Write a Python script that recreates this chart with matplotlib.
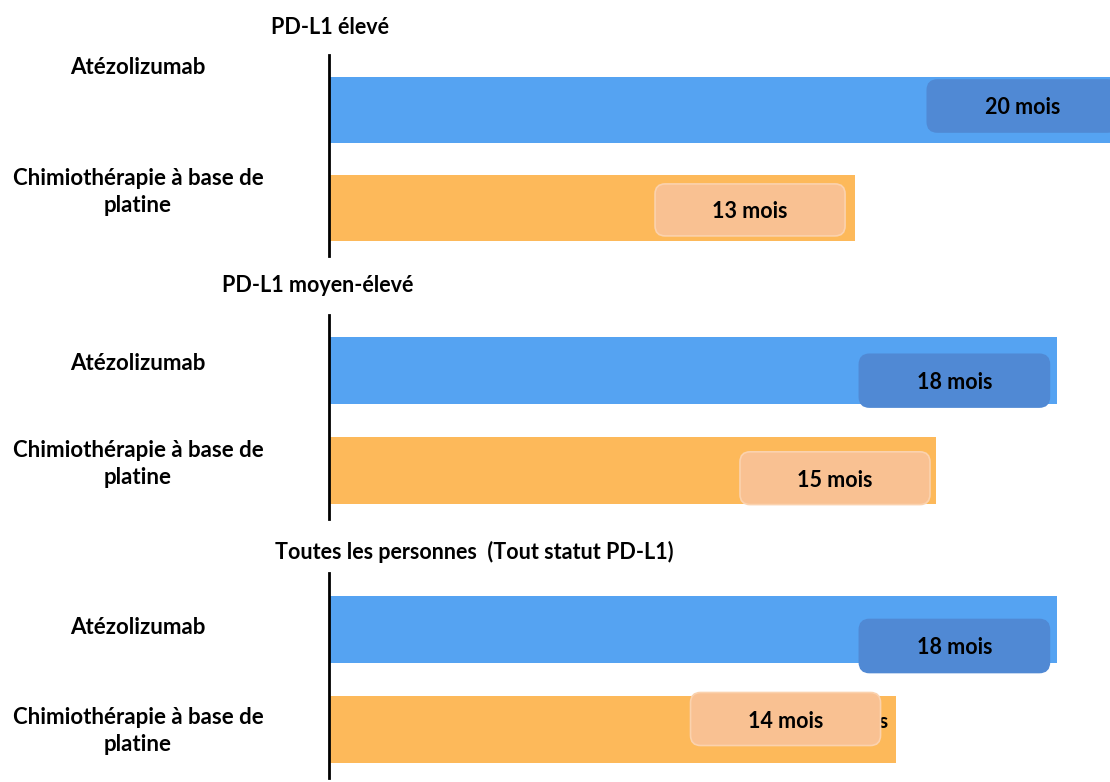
import matplotlib.pyplot as plt
from matplotlib.patches import FancyBboxPatch

plt.rcParams['font.family'] = ['Lato', 'DejaVu Sans']
plt.rcParams['font.weight'] = 'bold'

groups = ['PD-L1 élevé', 'PD-L1 moyen-élevé', 'Toutes les personnes  (Tout statut PD-L1)']
treatments = ['Atézolizumab', 'Chimiothérapie à base de\nplatine']
atezo_months = [20, 18, 18]
chemo_months = [13, 15, 14]

W, H = 1110, 782
fig = plt.figure(figsize=(W / 100, H / 100), dpi=100)

blue = '#55a3f2'
orange = '#fdb95a'
blue_box = '#5089d4'
orange_box = '#f9c192'

# panel layout in pixels: (axis top, axis bottom, title x, title y)
panels = [(55, 256, 330, 27), (315, 519, 318, 285), (573, 778, 474, 552)]
# row label centres in pixels (atezolizumab, chemo)
label_y = [(67, 192), (363, 464), (628, 731)]
# vertical shift of the value boxes in bar units (blue, orange)
box_shift = [(-0.04, 0.02), (0.10, 0.08), (0.17, -0.10)]
# gap in pixels between a box's right edge and the bar end
box_gap = [(21, 10), (8, 6), (8, 15)]

x0, x1 = 329, 1110
xmax = 19.3
px_per_month = (x1 - x0) / xmax
box_w = 190 / px_per_month
box_h = 0.53
aspect = px_per_month / 98.5

for i, (top, bot, tx, ty) in enumerate(panels):
    ax = fig.add_axes([x0 / W, 1 - bot / H, (x1 - x0) / W, (bot - top) / H])
    vals = [atezo_months[i], chemo_months[i]]
    ax.barh([0, 1], vals, height=0.67, color=[blue, orange], zorder=1)
    ax.set_xlim(0, xmax)
    ax.set_ylim(1.49, -0.56)
    for s in ['top', 'right', 'bottom']:
        ax.spines[s].set_visible(False)
    ax.spines['left'].set_linewidth(2)
    ax.spines['left'].set_color('black')
    ax.set_xticks([])
    ax.set_yticks([])
    ax.patch.set_alpha(0)

    for j, v in enumerate(vals):
        yc = j + box_shift[i][j]
        right = v - box_gap[i][j] / px_per_month
        if i == 2 and j == 1:
            # tail of an old label peeking out from under the box
            ax.text(right + 2 / px_per_month, yc + 0.03, 's', ha='center', va='center',
                    fontsize=15, color='black', zorder=1.5)
        fc = blue_box if j == 0 else orange_box
        ec = blue_box if j == 0 else '#fbd2ae'
        box = FancyBboxPatch((right - box_w, yc - box_h / 2), box_w, box_h,
                             boxstyle='round,pad=0,rounding_size=0.25',
                             mutation_aspect=aspect, fc=fc, ec=ec, lw=1.2,
                             zorder=2, clip_on=False)
        ax.add_patch(box)
        ax.text(right - box_w / 2, yc + 0.02, f'{v} mois', ha='center', va='center',
                fontsize=15.5, color='black', zorder=3)

    fig.text(tx / W, 1 - ty / H, groups[i], ha='center', va='center', fontsize=15.5)

    # row labels left of the axis
    fig.text(138 / W, 1 - label_y[i][0] / H, treatments[0], ha='center',
             va='center', fontsize=16)
    fig.text(138 / W, 1 - label_y[i][1] / H, treatments[1], ha='center',
             va='center', fontsize=16, linespacing=1.4)

fig.savefig('out.png', dpi=100, facecolor='white')
